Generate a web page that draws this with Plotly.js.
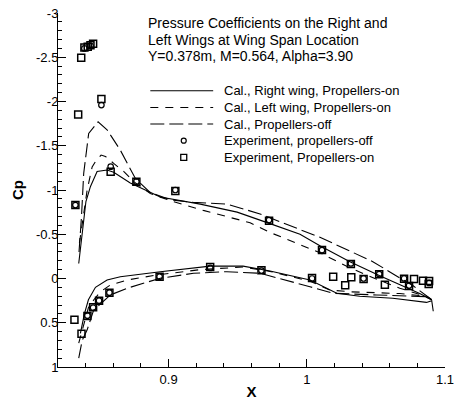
<!DOCTYPE html>
<html>
<head>
<meta charset="utf-8">
<script src="https://cdn.plot.ly/plotly-3.0.1.min.js"></script>
<style>
  html, body { margin: 0; padding: 0; background: #fff; }
  #chart { width: 457px; height: 400px; }
</style>
</head>
<body>
<div id="chart"></div>
<script>
// Computed Cp, right wing with propellers on (upper / lower surface)
const rightUpperX  = [0.8350, 0.8377, 0.8402, 0.8435, 0.8483, 0.8555, 0.8603, 0.8723, 0.8940, 0.9229, 0.9496, 0.9734, 0.9951, 1.0095, 1.0312, 1.0528, 1.0673, 1.0817, 1.0904];
const rightUpperCp = [-0.17, -0.55, -0.87, -1.04, -1.21, -1.226, -1.20, -1.08, -0.92, -0.84, -0.75, -0.62, -0.50, -0.37, -0.19, -0.03, 0.07, 0.17, 0.24];
const rightLowerX  = [0.8362, 0.8391, 0.8420, 0.8471, 0.8555, 0.8651, 0.8940, 0.9301, 0.9539, 0.9734, 1.0023, 1.0131, 1.0217, 1.0383, 1.0622, 1.0866, 1.0904, 1.0915];
const rightLowerCp = [0.62, 0.40, 0.24, 0.10, 0.017, -0.02, -0.077, -0.14, -0.14, -0.085, 0.017, 0.10, 0.167, 0.20, 0.224, 0.27, 0.25, 0.37];

// Computed Cp, left wing with propellers on
const leftUpperX  = [0.8355, 0.8386, 0.8411, 0.8447, 0.8471, 0.8512, 0.8543, 0.8603, 0.8675, 0.8760, 0.8868, 0.9012, 0.9251, 0.9590, 0.9734, 0.9878, 1.0095, 1.0312, 1.0493, 1.0673, 1.0817, 1.0904];
const leftUpperCp = [-0.40, -0.72, -1.0, -1.26, -1.32, -1.395, -1.38, -1.30, -1.21, -1.08, -0.96, -0.88, -0.77, -0.63, -0.52, -0.43, -0.29, -0.12, 0.0, 0.11, 0.18, 0.24];
const leftLowerX  = [0.8350, 0.8386, 0.8420, 0.8458, 0.8507, 0.8579, 0.8700, 0.8916, 0.9229, 0.9539, 0.9734, 1.0023, 1.0167, 1.0312, 1.0673, 1.0868, 1.0904];
const leftLowerCp = [0.73, 0.51, 0.33, 0.243, 0.15, 0.073, 0.017, -0.04, -0.10, -0.13, -0.08, 0.03, 0.13, 0.15, 0.17, 0.20, 0.24];

// Computed Cp, propellers off
const offUpperX  = [0.8352, 0.8370, 0.8386, 0.8422, 0.8490, 0.8555, 0.8651, 0.8760, 0.8868, 0.9012, 0.9178, 0.9424, 0.9662, 0.9878, 1.0095, 1.0312, 1.0478, 1.0637, 1.0767, 1.0904];
const offUpperCp = [-0.30, -0.70, -1.19, -1.64, -1.77, -1.68, -1.45, -1.13, -0.97, -0.89, -0.86, -0.84, -0.73, -0.60, -0.465, -0.31, -0.19, -0.04, 0.08, 0.24];
const offLowerX  = [0.8350, 0.8375, 0.8411, 0.8458, 0.8579, 0.8700, 0.8940, 0.9181, 0.9422, 0.9662, 1.0023, 1.0191, 1.0505, 1.0866, 1.0904];
const offLowerCp = [0.90, 0.70, 0.58, 0.356, 0.186, 0.11, -0.003, -0.059, -0.077, -0.059, 0.093, 0.167, 0.186, 0.205, 0.24];

// Wind-tunnel measurements, propellers off
const expOffX  = [0.8326, 0.8391, 0.8435, 0.8514, 0.8581, 0.8767, 0.9049, 0.9727, 1.0110, 1.0319, 1.0524, 1.0704, 1.0885,
                  0.8413, 0.8454, 0.8497, 0.8572, 0.8935, 0.9301, 0.9672, 1.0038, 1.0411, 1.0740];
const expOffCp = [-0.83, -2.60, -2.63, -1.96, -1.263, -1.094, -1.00, -0.66, -0.32, -0.17, -0.05, 0.00, 0.05,
                  0.42, 0.33, 0.25, 0.16, -0.02, -0.12, -0.09, 0.00, 0.00, 0.08];

// Wind-tunnel measurements, propellers on
const expOnX  = [0.8326, 0.8346, 0.8368, 0.8391, 0.8415, 0.8435, 0.8454, 0.8514, 0.8581, 0.8767, 0.9049, 0.9727, 1.0110, 1.0319, 1.0524, 1.0704, 1.0776, 1.0841, 1.0885,
                 0.8319, 0.8370, 0.8413, 0.8454, 0.8497, 0.8572, 0.8935, 0.9301, 0.9672, 1.0038, 1.0191, 1.0278, 1.0322, 1.0411, 1.0565, 1.0740, 1.0882];
const expOnCp = [-0.83, -1.853, -2.495, -2.61, -2.62, -2.635, -2.653, -2.028, -1.207, -1.094, -0.989, -0.653, -0.322, -0.164, -0.047, 0.003, 0.006, 0.025, 0.028,
                 0.466, 0.624, 0.424, 0.325, 0.251, 0.16, -0.02, -0.13, -0.093, -0.006, -0.02, 0.077, -0.014, 0.006, 0.07, 0.085, 0.062];

// Axis ticks
const xTickVals = [0.9, 1.0, 1.1];
const xTickText = ['0.9', '1', '1.1'];
const yTickVals = [-3, -2.5, -2, -1.5, -1, -0.5, 0, 0.5, 1];
const yTickText = ['-3', '-2.5', '-2', '-1.5', '-1', '-0.5', '0', '0.5', '1'];

const titleLines = ['Pressure Coefficients on the Right and',
                    'Left Wings at Wing Span Location',
                    'Y=0.378m, M=0.564, Alpha=3.90'];
const legendLabels = ['Cal., Right wing, Propellers-on',
                      'Cal., Left wing, Propellers-on',
                      'Cal., Propellers-off',
                      'Experiment, propellers-off',
                      'Experiment, Propellers-on'];

// join upper and lower surface with a gap
function surf(ux, uy, lx, ly) {
  return { x: ux.concat([null], lx), y: uy.concat([null], ly) };
}

const DASH_MED = '8px,7px';
const DASH_LONG = '14px,5px';
const INK = '#000';

const r = surf(rightUpperX, rightUpperCp, rightLowerX, rightLowerCp);
const l = surf(leftUpperX, leftUpperCp, leftLowerX, leftLowerCp);
const o = surf(offUpperX, offUpperCp, offLowerX, offLowerCp);

const traces = [
  { x: r.x, y: r.y, mode: 'lines', connectgaps: false, line: { color: INK, width: 1.1 } },
  { x: l.x, y: l.y, mode: 'lines', connectgaps: false, line: { color: INK, width: 1.1, dash: DASH_MED } },
  { x: o.x, y: o.y, mode: 'lines', connectgaps: false, line: { color: INK, width: 1.1, dash: DASH_LONG } },
  { x: expOffX, y: expOffCp, mode: 'markers',
    marker: { symbol: 'circle-open', size: 5.5, color: INK, line: { width: 1.2, color: INK } } },
  { x: expOnX, y: expOnCp, mode: 'markers',
    marker: { symbol: 'square-open', size: 7, color: INK, line: { width: 1.5, color: INK } } }
];

// plot frame in pixels
const L = 57.5, R = 445.3, T = 13, B = 367;
const px = v => (v - L) / (R - L);
const py = v => (B - v) / (B - T);

const annotations = [];
const shapes = [];
const titleY = [23, 40, 56];
titleLines.forEach((t, i) => annotations.push({
  xref: 'paper', yref: 'paper', x: px(146), y: py(titleY[i]), xanchor: 'left', yanchor: 'middle',
  text: t, showarrow: false, font: { family: 'Liberation Sans, Arial, sans-serif', size: 14, color: INK }
}));

const legY = [90.7, 107.5, 124, 140.7, 157.3];
legendLabels.forEach((t, i) => annotations.push({
  xref: 'paper', yref: 'paper', x: px(222), y: py(legY[i]), xanchor: 'left', yanchor: 'middle',
  text: t, showarrow: false, font: { family: 'Liberation Sans, Arial, sans-serif', size: 13, color: INK }
}));
const legDash = ['solid', DASH_MED, DASH_LONG];
legDash.forEach((d, i) => shapes.push({
  type: 'line', xref: 'paper', yref: 'paper', x0: px(150), x1: px(213), y0: py(legY[i]), y1: py(legY[i]),
  line: { color: INK, width: 1.1, dash: d }
}));
// legend symbols
shapes.push({ type: 'circle', xref: 'paper', yref: 'paper',
  x0: px(183.5 - 2.5), x1: px(183.5 + 2.5), y0: py(legY[3] - 2.5), y1: py(legY[3] + 2.5),
  line: { color: INK, width: 1.2 } });
shapes.push({ type: 'rect', xref: 'paper', yref: 'paper',
  x0: px(183.5 - 3), x1: px(183.5 + 3), y0: py(legY[4] - 3), y1: py(legY[4] + 3),
  line: { color: INK, width: 1.3 } });

const axisFont = { family: 'Liberation Sans, Arial, sans-serif', size: 13, color: INK };

const layout = {
  width: 457, height: 400,
  margin: { l: L, r: 457 - R, t: T, b: 400 - B, pad: 0 },
  paper_bgcolor: '#fff', plot_bgcolor: '#fff',
  showlegend: false,
  xaxis: {
    range: [0.82, 1.1], showgrid: false, zeroline: false,
    showline: true, linecolor: INK, linewidth: 1, mirror: false,
    ticks: 'inside', ticklen: 8, tickwidth: 1, tickcolor: INK,
    tickmode: 'array', tickvals: xTickVals, ticktext: xTickText, tickfont: axisFont,
    minor: { ticks: 'inside', ticklen: 4, tickwidth: 1, tickcolor: INK, tick0: 0.82, dtick: 0.02, showgrid: false },
    title: { text: '<b>X</b>', font: { family: 'Liberation Sans, Arial, sans-serif', size: 15, color: INK }, standoff: 4 }
  },
  yaxis: {
    range: [1, -3], showgrid: false, zeroline: false,
    showline: true, linecolor: INK, linewidth: 1, mirror: false,
    ticks: 'inside', ticklen: 8, tickwidth: 1, tickcolor: INK,
    tickmode: 'array', tickvals: yTickVals, ticktext: yTickText, tickfont: axisFont,
    ticklabelstandoff: -4,
    minor: { ticks: 'inside', ticklen: 4, tickwidth: 1, tickcolor: INK, tick0: 0, dtick: 0.1, showgrid: false },
    title: { text: '<b>Cp</b>', font: { family: 'Liberation Sans, Arial, sans-serif', size: 15, color: INK }, standoff: 8 }
  },
  annotations: annotations,
  shapes: shapes
};

Plotly.newPlot('chart', traces, layout, { displayModeBar: false, staticPlot: true });
</script>
</body>
</html>
